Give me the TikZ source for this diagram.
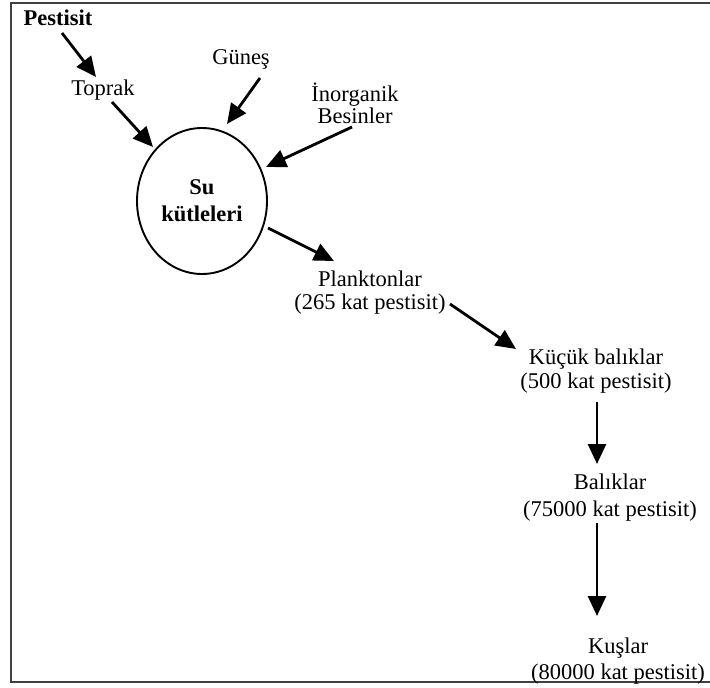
\documentclass[tikz,border=0pt]{standalone}
\usepackage{fontspec}
\setmainfont{Liberation Serif}
\usetikzlibrary{arrows.meta,shapes.geometric}
\begin{document}
\begin{tikzpicture}[yscale=-1,x=1pt,y=1pt,
  lbl/.style={inner sep=1pt,align=center,font=\fontsize{22.5}{22}\selectfont},
  bold/.style={lbl,font=\fontsize{22.5}{22}\selectfont\bfseries},
  arr/.style={line width=2.8pt,-{Triangle[length=20pt,width=18pt]}},
  frame/.style={line width=2.4pt,draw=black!75}]
\useasboundingbox (0,0) rectangle (710,688);
% frame
\draw[frame] (710,3) -- (11,3) -- (11,682) -- (710,682);
% nodes
\node[bold] (pest) at (58,18) {Pestisit};
\node[lbl] (toprak) at (103,90) {Toprak};
\node[lbl] (gunes) at (241,59) {Güneş};
\node[lbl] (inorg) at (355,103) {İnorganik\\[0pt]Besinler};
\node[ellipse,draw,line width=1.9pt,minimum width=130pt,minimum height=146pt,
      align=center,font=\fontsize{22.5}{22}\selectfont\bfseries] (su) at (202,201) {Su\\[5pt]kütleleri};
\node[lbl] (plank) at (370,293) {Planktonlar\\[1pt](265 kat pestisit)};
\node[lbl] (kucuk) at (596,371) {Küçük balıklar\\[2pt](500 kat pestisit)};
\node[lbl] (balik) at (610,498) {Balıklar\\[5pt](75000 kat pestisit)};
\node[lbl] (kus) at (618,661) {Kuşlar\\[4pt](80000 kat pestisit)};
% arrow end points
\coordinate (p1s) at (62,33);   \coordinate (p1e) at (96,77);
\coordinate (t1s) at (112,102); \coordinate (t1e) at (153,147);
\coordinate (g1s) at (260,78);  \coordinate (g1e) at (227,124);
\coordinate (i1s) at (352,127); \coordinate (i1e) at (266,167);
\coordinate (s1s) at (268,228); \coordinate (s1e) at (334,261);
\coordinate (k0s) at (450,304); \coordinate (k0e) at (516,349);
\coordinate (k1s) at (597,402); \coordinate (k1e) at (597,464);
\coordinate (b1s) at (597,523); \coordinate (b1e) at (597,616);
% connectors
\draw[arr] (p1s) -- (p1e);
\draw[arr] (t1s) -- (t1e);
\draw[arr] (g1s) -- (g1e);
\draw[arr] (i1s) -- (i1e);
\draw[arr] (s1s) -- (s1e);
\draw[arr] (k0s) -- (k0e);
\draw[arr] (k1s) -- (k1e);
\draw[arr] (b1s) -- (b1e);
\end{tikzpicture}
\end{document}
